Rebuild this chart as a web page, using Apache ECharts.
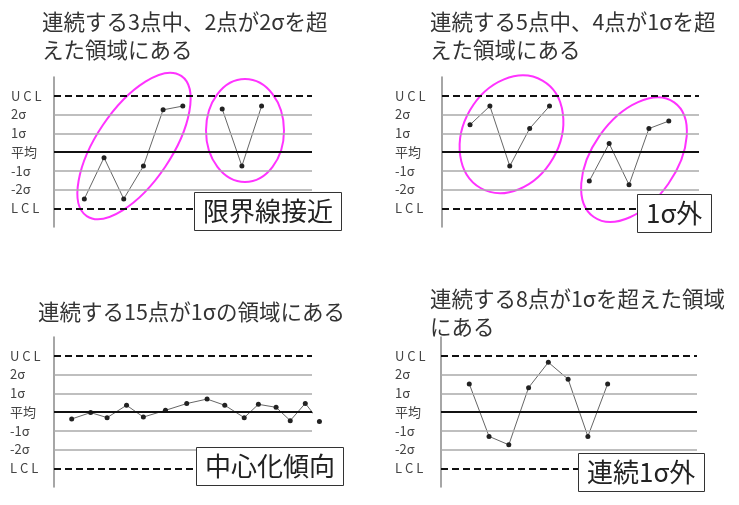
<!DOCTYPE html>
<html>
<head>
<meta charset="utf-8">
<script src="https://cdn.jsdelivr.net/npm/echarts@6/dist/echarts.min.js"></script>
<style>
  html, body { margin: 0; padding: 0; background: #fff; }
  #chart { width: 739px; height: 505px; }
</style>
</head>
<body>
<div id="chart"></div>
<script>
// 管理図の4パターン
const levels = [3, 2, 1, 0, -1, -2, -3]
const levelLabels = ['U C L', '2σ', '1σ', '平均', '-1σ', '-2σ', 'L C L']

const titles = [
  '連続する3点中、2点が2σを超\nえた領域にある',
  '連続する5点中、4点が1σを超\nえた領域にある',
  '連続する15点が1σの領域にある',
  '連続する8点が1σを超えた領域\nにある'
]
const tags = ['限界線接近', '1σ外', '中心化傾向', '連続1σ外']

const p1X = [0, 1, 2, 3, 4, 5, 6, 7, 8, 9]
const p1Y = [-2.5, -0.3, -2.5, -0.75, 2.25, 2.45, null, 2.3, -0.75, 2.45]

const p2X = [0, 1, 2, 3, 4, 5, 6, 7, 8, 9, 10]
const p2Y = [1.45, 2.45, -0.75, 1.25, 2.45, null, -1.55, 0.45, -1.75, 1.25, 1.65]

const p3X = [0, 1.07, 2.0, 3.1, 4.05, 5.3, 6.5, 7.65, 8.65, 9.75, 10.55, 11.55, 12.35, 13.2, 14.0]
const p3Y = [-0.37, -0.03, -0.3, 0.36, -0.27, 0.09, 0.45, 0.69, 0.36, -0.3, 0.41, 0.25, -0.46, 0.46, -0.5]

const p4X = [0, 1, 2, 3, 4, 5, 6, 7]
const p4Y = [1.5, -1.3, -1.75, 1.3, 2.65, 1.75, -1.3, 1.5]

const panelX = [p1X, p2X, p3X, p4X]
const panelY = [p1Y, p2Y, p3Y, p4Y]

const FONT = '"Noto Sans CJK JP", "Noto Sans", sans-serif'

// レイアウト
const grids = [
  { left: 54, top: 77, width: 258, height: 150 },
  { left: 442, top: 77, width: 257, height: 150 },
  { left: 54, top: 337, width: 258, height: 150 },
  { left: 441, top: 337, width: 256, height: 150 }
]
const xRange = [[-1.54, 11.56], [-1.41, 11.52], [-1.0, 13.58], [-1.43, 11.52]]
const labelMargin = [43, 47, 44, 46]
const titlePos = [[42, 8], [430, 8], [38, 298], [430, 285]]
const tagPos = [[194, 192], [637, 194], [196, 447], [578, 453]]

const chart = echarts.init(document.getElementById('chart'))

const lineFor = (lv) => {
  if (lv === 3 || lv === -3) return { color: '#111', width: 2, type: [7, 4] }
  if (lv === 0) return { color: '#111', width: 2, type: 'solid' }
  return { color: '#aaa', width: 1.5, type: 'solid' }
}

const option = {
  animation: false,
  backgroundColor: '#fff',
  title: [
    ...titles.map((t, i) => ({
      text: t,
      left: titlePos[i][0],
      top: titlePos[i][1],
      padding: 0,
      textStyle: { fontFamily: FONT, fontSize: 21.5, fontWeight: 'normal', color: '#333', lineHeight: 28 }
    })),
    ...tags.map((t, i) => ({
      text: t,
      left: tagPos[i][0],
      top: tagPos[i][1],
      z: 10,
      padding: [3, 9, 3, 9],
      backgroundColor: '#fff',
      borderColor: '#333',
      borderWidth: 1,
      textStyle: { fontFamily: FONT, fontSize: 26, fontWeight: 'normal', color: '#222', lineHeight: 33 }
    }))
  ],
  grid: grids,
  xAxis: grids.map((g, i) => ({
    type: 'value',
    gridIndex: i,
    min: xRange[i][0],
    max: xRange[i][1],
    show: false
  })),
  yAxis: grids.map((g, i) => ({
    type: 'value',
    gridIndex: i,
    min: -4,
    max: 4,
    interval: 1,
    axisLine: { show: true, onZero: false, lineStyle: { color: '#888', width: 1.5 } },
    axisTick: { show: false },
    splitLine: { show: false },
    axisLabel: {
      align: 'left',
      margin: labelMargin[i],
      fontFamily: FONT,
      fontSize: 13,
      color: '#444',
      formatter: (v) => {
        const k = levels.indexOf(v)
        return k >= 0 ? levelLabels[k] : ''
      }
    }
  })),
  series: panelY.map((ys, i) => ({
    type: 'line',
    xAxisIndex: i,
    yAxisIndex: i,
    clip: false,
    data: ys.map((y, j) => [panelX[i][j], y === null ? '-' : y]),
    lineStyle: { color: '#666', width: 1 },
    symbol: 'circle',
    symbolSize: 5,
    itemStyle: { color: '#222' },
    markLine: {
      silent: true,
      symbol: 'none',
      label: { show: false },
      data: levels.map(lv => ({ yAxis: lv, lineStyle: lineFor(lv) }))
    }
  })),
  graphic: [
    { cx: 134, cy: 146, rx: 84.5, ry: 37.5, rot: 56 },
    { cx: 245, cy: 130.5, rx: 39, ry: 51.5, rot: 0 },
    { cx: 511.5, cy: 134.3, rx: 62, ry: 48, rot: 60 },
    { cx: 634, cy: 159.7, rx: 70, ry: 42, rot: 55 }
  ].map(e => ({
    type: 'ellipse',
    x: e.cx,
    y: e.cy,
    rotation: e.rot * Math.PI / 180,
    z: 5,
    silent: true,
    shape: { cx: 0, cy: 0, rx: e.rx, ry: e.ry },
    style: { fill: 'none', stroke: '#ff33ff', lineWidth: 2 }
  }))
}

chart.setOption(option)
window.addEventListener('resize', () => chart.resize())
</script>
</body>
</html>
